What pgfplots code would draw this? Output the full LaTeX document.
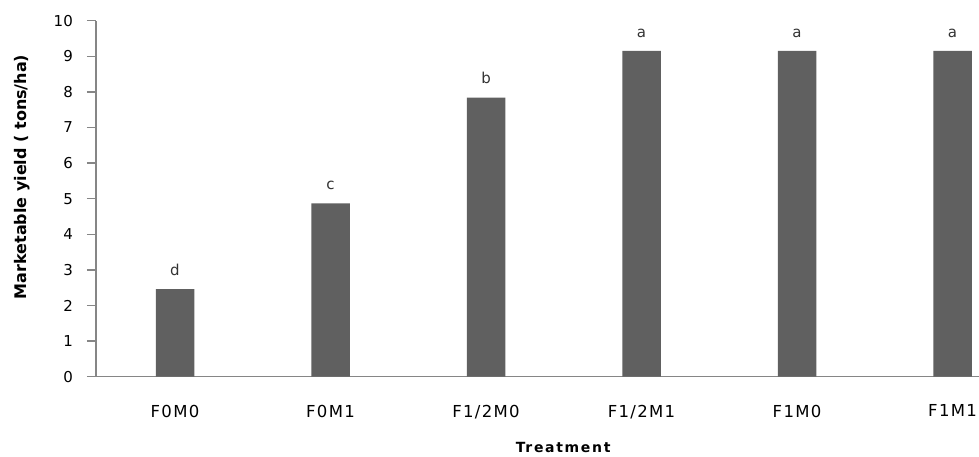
\documentclass[border=0pt]{standalone}
\usepackage{fontspec}
\setmainfont{DejaVu Sans}
\newfontfamily\spaced[LetterSpace=8]{DejaVu Sans}
\newfontfamily\spacedb[LetterSpace=12]{DejaVu Sans}
\usepackage{pgfplots}
\pgfplotsset{compat=1.18}
\usepackage{pgfplotstable}
\definecolor{barcol}{HTML}{606060}
\definecolor{axcol}{HTML}{868686}
\pgfplotstableread{
x y lab
0 2.46 d
1 4.87 c
2 7.84 b
3 9.15 a
4 9.15 a
5 9.15 a
}\yielddata
\begin{document}
\begin{tikzpicture}
\begin{axis}[
  scale only axis,
  width=883bp, height=356bp,
  xmin=-0.508, xmax=5.17,
  ymin=0, ymax=10,
  ytick={0,1,...,10},
  xtick={0,1,2,3,4,5},
  xticklabels={F0M0,F0M1,F1/2M0,F1/2M1,F1M0,F1M1},
  axis x line*=bottom,
  axis y line*=left,
  axis line style={draw=axcol, line width=1.5bp},
  tick align=outside,
  major tick length=9bp,
  ytick style={draw=axcol, line width=1.5bp},
  xtick style={draw=none},
  /pgf/number format/assume math mode=true,
  yticklabel style={font=\fontsize{15bp}{18bp}\selectfont, anchor=east, inner sep=0pt, xshift=-14bp},
  xticklabel style={font=\spaced\fontsize{16.5bp}{19bp}\selectfont, anchor=north, inner sep=0pt, yshift=-19bp},
  xlabel={Treatment},
  xlabel style={font=\spacedb\bfseries\fontsize{14bp}{17bp}\selectfont, at={(axis description cs:0.529,0)}, anchor=base, yshift=-75.5bp, inner sep=0pt},
  ylabel={Marketable yield ( tons/ha)},
  ylabel style={font=\bfseries\fontsize{16bp}{19bp}\selectfont, at={(axis description cs:0,0.561)}, anchor=center, yshift=74bp, inner sep=0pt},
  nodes near coords,
  point meta=explicit symbolic,
  nodes near coords style={font=\fontsize{15bp}{18bp}\selectfont, text=black!80, anchor=south, inner sep=0pt, yshift=13.5bp},
  clip=false,
]
\addplot[ybar, bar width=38.5bp, fill=barcol, draw=none] table[x=x, y=y, meta=lab] {\yielddata};
\end{axis}
\pgfresetboundingbox
\path[use as bounding box] (current axis.south west) ++(-96bp,-80.3bp) rectangle ++(979bp,457bp);
\end{tikzpicture}
\end{document}
